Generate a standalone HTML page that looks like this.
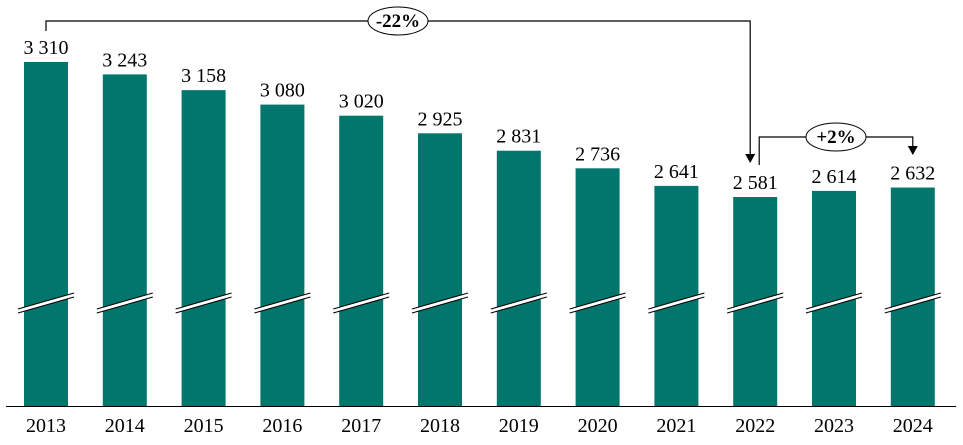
<!DOCTYPE html>
<html><head><meta charset="utf-8"><style>
body{margin:0;background:#fff}
svg{display:block;font-family:"Liberation Serif",serif}
</style></head><body>
<svg id="chart" width="963" height="445" viewBox="0 0 963 445"></svg>
<script>
const categories=["2013","2014","2015","2016","2017","2018","2019","2020","2021","2022","2023","2024"];
const values=[3310,3243,3158,3080,3020,2925,2831,2736,2641,2581,2614,2632];
const valueLabels=["3 310","3 243","3 158","3 080","3 020","2 925","2 831","2 736","2 641","2 581","2 614","2 632"];
const changeLabels=["-22%","+2%"];
const NS="http://www.w3.org/2000/svg";
const svg=document.getElementById('chart');
const baseY=406, step=78.8, bw=44, x0=24;
const k=(197-62)/(3310-2581);
const baseVal=3310-(baseY-62)/k;
const xPos=i=>x0+i*step;
const yPos=v=>baseY-(v-baseVal)*k;
function el(t,a){const e=document.createElementNS(NS,t);for(const n in a)e.setAttribute(n,a[n]);svg.appendChild(e);return e;}
categories.forEach((c,i)=>{
  const x=xPos(i),y=yPos(values[i]);
  const r=el('rect',{x:x,y:y,width:bw,height:baseY-y,fill:'#02766C'});
  
  
  const g=el('polygon',{points:`${x-6},${309} ${x+bw+6},${293} ${x+bw+6},${297} ${x-6},${313}`,fill:'#fff'});
  
  
  el('line',{x1:x-6,y1:309,x2:x+bw+6,y2:293,stroke:'#000','stroke-width':1});
  el('line',{x1:x-6,y1:313,x2:x+bw+6,y2:297,stroke:'#000','stroke-width':1});
  const t=el('text',{x:x+bw/2,y:y-8,'text-anchor':'middle','font-size':20});
  t.textContent=valueLabels[i];
  
  
  const l=el('text',{x:x+bw/2,y:432,'text-anchor':'middle','font-size':20});
  l.textContent=c;
  
  
});
const ax=el('line',{x1:6,y1:baseY+0.5,x2:956,y2:baseY+0.5,stroke:'#000','stroke-width':1});


function bracket(i1,i2,ytop,ystart,yend,label,cx,name,ox1,ox2){
  const a=xPos(i1)+bw/2+ox1,b=xPos(i2)+bw/2+ox2;
  const p=el('polyline',{points:`${a},${ystart} ${a},${ytop} ${b},${ytop} ${b},${yend-8}`,fill:'none',stroke:'#000','stroke-width':1.2});
  
  
  el('polygon',{points:`${b-5},${yend-9} ${b+5},${yend-9} ${b},${yend}`,fill:'#000'});
  const e=el('ellipse',{cx:cx,cy:ytop,rx:30,ry:14,fill:'#fff',stroke:'#000','stroke-width':1});
  
  
  const t=el('text',{x:cx,y:ytop+6,'text-anchor':'middle','font-size':19,'font-weight':'bold'});
  t.textContent=label;
  
  
}
bracket(0,9,21,31,163,changeLabels[0],398,'change-2013-2022',0,-5);
bracket(9,11,137,165,155,changeLabels[1],836,'change-2022-2024',4,0);
</script>
</body></html>
